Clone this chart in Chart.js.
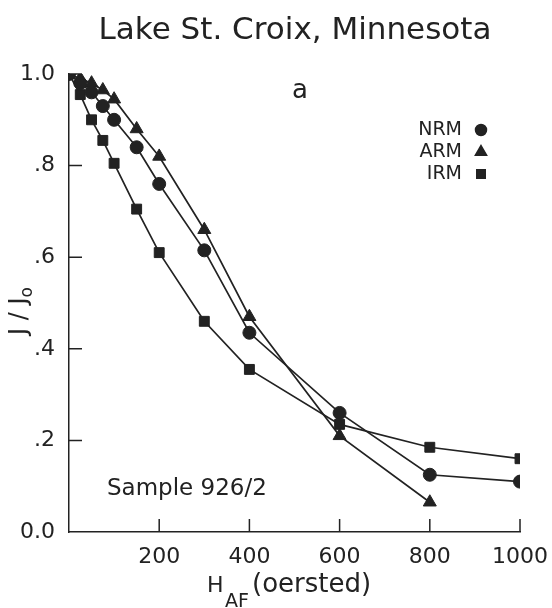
<!DOCTYPE html>
<html>
<head>
<meta charset="utf-8">
<script src="https://cdn.jsdelivr.net/npm/chart.js@4/dist/chart.umd.min.js"></script>
<style>
  html, body { margin: 0; padding: 0; background: #fff; }
  canvas { display: block; }
</style>
</head>
<body>
<canvas id="chart" width="552" height="608"></canvas>
<script>
const fieldSteps = [0, 25, 50, 75, 100, 150, 200, 300, 400, 600, 800, 1000];
const nrmValues = [1.0, 0.98, 0.96, 0.93, 0.90, 0.84, 0.76, 0.615, 0.435, 0.26, 0.125, 0.11];
const armValues = [1.0, 0.99, 0.98, 0.965, 0.945, 0.88, 0.82, 0.66, 0.47, 0.21, 0.065];
const irmValues = [1.0, 0.955, 0.90, 0.855, 0.805, 0.705, 0.61, 0.46, 0.355, 0.235, 0.185, 0.16];

const xTicks = [0, 200, 400, 600, 800, 1000];
const yTicks = [0, 0.2, 0.4, 0.6, 0.8, 1.0];
const yTickLabels = ['0.0', '.2', '.4', '.6', '.8', '1.0'];

const ink = '#222';
const font = 'DejaVu Sans';

const series = [
    { label: 'NRM', values: nrmValues, style: 'circle', radius: 6.5 },
    { label: 'ARM', values: armValues, style: 'triangle', radius: 7.5 },
    { label: 'IRM', values: irmValues, style: 'rect', radius: 7 }
];

function toPoints(values) {
    return values.map((v, i) => ({ x: fieldSteps[i], y: v }));
}

const decorations = {
    id: 'decorations',
    afterDraw(chart) {
        const { ctx, chartArea, scales: { x, y } } = chart;
        ctx.save();
        ctx.strokeStyle = ink;
        ctx.fillStyle = ink;
        ctx.lineWidth = 1.5;

        // tick marks point into the plot
        ctx.beginPath();
        xTicks.filter(v => v > 0).forEach(v => {
            const px = x.getPixelForValue(v);
            ctx.moveTo(px, chartArea.bottom);
            ctx.lineTo(px, chartArea.bottom - 13);
        });
        yTicks.filter(v => v > 0).forEach(v => {
            const py = y.getPixelForValue(v);
            ctx.moveTo(chartArea.left, py);
            ctx.lineTo(chartArea.left + 13, py);
        });
        ctx.stroke();

        ctx.textBaseline = 'alphabetic';

        ctx.font = `31px "${font}"`;
        ctx.textAlign = 'center';
        ctx.fillText('Lake St. Croix, Minnesota', 295, 39);

        ctx.font = `26px "${font}"`;
        ctx.fillText('a', 300, 98);

        ctx.font = `23px "${font}"`;
        ctx.textAlign = 'left';
        ctx.fillText('Sample 926/2', 107, 495);

        // legend: name, then marker to its right
        ctx.font = `19px "${font}"`;
        ctx.textAlign = 'right';
        ctx.textBaseline = 'middle';
        series.forEach((s, i) => {
            const ly = 130 + i * 22;
            ctx.fillText(s.label, 462, ly);
            Chart.helpers.drawPoint(ctx, { pointStyle: s.style, radius: s.radius - 1, rotation: 0, borderWidth: 1 }, 481, ly);
        });

        // x axis title with subscript
        ctx.textAlign = 'left';
        ctx.textBaseline = 'alphabetic';
        ctx.font = `22px "${font}"`;
        ctx.fillText('H', 207, 592);
        ctx.font = `19px "${font}"`;
        ctx.fillText('AF', 225, 607);
        ctx.font = `26px "${font}"`;
        ctx.fillText('(oersted)', 252, 592);

        // y axis title
        ctx.translate(26, 305);
        ctx.rotate(-Math.PI / 2);
        ctx.font = `24px "${font}"`;
        ctx.textAlign = 'left';
        const w = ctx.measureText('J / J').width;
        ctx.fillText('J / J', -30, 0);
        ctx.font = `17px "${font}"`;
        ctx.fillText('o', -30 + w, 6);

        ctx.restore();
    }
};

new Chart(document.getElementById('chart'), {
    type: 'scatter',
    data: {
        datasets: series.map(s => ({
            label: s.label,
            data: toPoints(s.values),
            showLine: true,
            borderColor: ink,
            backgroundColor: ink,
            borderWidth: 1.7,
            pointStyle: s.style,
            pointRadius: s.radius,
            pointBorderWidth: 1,
            tension: 0
        }))
    },
    options: {
        responsive: false,
        animation: false,
        layout: { padding: { top: 74, right: 30, left: 0, bottom: 0 } },
        plugins: {
            legend: { display: false },
            tooltip: { enabled: false }
        },
        scales: {
            x: {
                type: 'linear',
                min: 0,
                max: 1000,
                afterFit: scale => { scale.height = 76; },
                afterBuildTicks: scale => { scale.ticks = xTicks.map(v => ({ value: v })); },
                grid: { display: false },
                border: { display: true, color: ink, width: 1.5 },
                ticks: {
                    color: ink,
                    padding: 4,
                    font: { family: font, size: 22 },
                    callback: v => (v === 0 ? '' : String(v))
                }
            },
            y: {
                type: 'linear',
                min: 0,
                max: 1,
                afterFit: scale => { scale.width = 69; },
                afterBuildTicks: scale => { scale.ticks = yTicks.map(v => ({ value: v })); },
                grid: { display: false },
                border: { display: true, color: ink, width: 1.5 },
                ticks: {
                    color: ink,
                    padding: 6,
                    font: { family: font, size: 22 },
                    callback: (v, i) => yTickLabels[i]
                }
            }
        }
    },
    plugins: [decorations]
});
</script>
</body>
</html>
